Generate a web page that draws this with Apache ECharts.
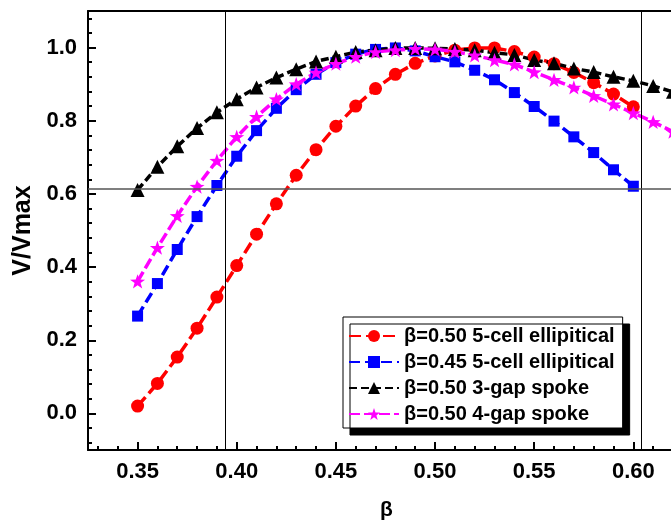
<!DOCTYPE html>
<html>
<head>
<meta charset="utf-8">
<script src="https://cdn.jsdelivr.net/npm/echarts@6/dist/echarts.min.js"></script>
<style>
  html, body { margin: 0; padding: 0; background: #fff; }
  #chart { width: 671px; height: 524px; }
</style>
</head>
<body>
<div id="chart"></div>
<script>
// ---- data ----
const betaShort = [0.35,0.36,0.37,0.38,0.39,0.40,0.41,0.42,0.43,0.44,0.45,0.46,0.47,0.48,0.49,0.50,0.51,0.52,0.53,0.54,0.55,0.56,0.57,0.58,0.59,0.60];
const betaLong  = [0.35,0.36,0.37,0.38,0.39,0.40,0.41,0.42,0.43,0.44,0.45,0.46,0.47,0.48,0.49,0.50,0.51,0.52,0.53,0.54,0.55,0.56,0.57,0.58,0.59,0.60,0.61,0.62];

const ell050 = [0.020,0.082,0.154,0.233,0.318,0.404,0.490,0.573,0.651,0.721,0.785,0.840,0.888,0.927,0.957,0.977,0.993,0.999,0.999,0.989,0.974,0.956,0.932,0.904,0.873,0.838];
const ell045 = [0.266,0.355,0.448,0.538,0.623,0.703,0.773,0.834,0.885,0.927,0.959,0.982,0.995,0.999,0.991,0.975,0.961,0.938,0.912,0.877,0.839,0.799,0.756,0.713,0.666,0.621];
const spoke3 = [0.611,0.674,0.730,0.780,0.823,0.859,0.891,0.918,0.941,0.962,0.975,0.988,0.993,0.999,0.999,0.998,0.996,0.993,0.986,0.980,0.966,0.957,0.943,0.933,0.920,0.909,0.895,0.879];
const spoke4 = [0.361,0.453,0.540,0.620,0.691,0.756,0.811,0.859,0.900,0.932,0.956,0.975,0.988,0.993,0.997,0.995,0.989,0.979,0.966,0.954,0.933,0.912,0.891,0.868,0.845,0.821,0.797,0.770];

const seriesNames = ['\u03b2=0.50 5-cell ellipitical','\u03b2=0.45 5-cell ellipitical','\u03b2=0.50 3-gap spoke','\u03b2=0.50 4-gap spoke'];

const xMajorTicks = [0.35,0.40,0.45,0.50,0.55,0.60];
const xMinorTicks = [0.33,0.34,0.36,0.37,0.38,0.39,0.41,0.42,0.43,0.44,0.46,0.47,0.48,0.49,0.51,0.52,0.53,0.54,0.56,0.57,0.58,0.59,0.61];
const yMajorTicks = [0.0,0.2,0.4,0.6,0.8,1.0];
const yMinorTicks = [-0.08,-0.04,0.04,0.08,0.12,0.16,0.24,0.28,0.32,0.36,0.44,0.48,0.52,0.56,0.64,0.68,0.72,0.76,0.84,0.88,0.92,0.96,1.04,1.08];

const refLinesX = [0.3943, 0.6040];
const refLinesY = [0.613];

const X_MIN = 0.325, X_MAX = 0.62, Y_MIN = -0.1, Y_MAX = 1.1;

// ---- chart ----
const FONT = '"Liberation Sans", Arial, sans-serif';
const pairs = (xs, ys) => ys.map((v, i) => [xs[i], v]);
const starPath = 'path://M0,-10 L2.35,-3.24 L9.51,-3.09 L3.8,1.24 L5.88,8.09 L0,4 L-5.88,8.09 L-3.8,1.24 L-9.51,-3.09 L-2.35,-3.24 Z';

const gridBox = { left: 88, top: 11, width: 585, height: 439, containLabel: false, outerBoundsMode: 'none' };

const chart = echarts.init(document.getElementById('chart'), null, { renderer: 'canvas' });

const mkSeries = (name, xs, ys, color, symbol, size, dash) => ({
  name, type: 'line', xAxisIndex: 0, yAxisIndex: 0,
  data: pairs(xs, ys),
  symbol, symbolSize: size, symbolKeepAspect: true,
  itemStyle: { color, borderWidth: 0 },
  lineStyle: { color, width: 3.5, type: dash },
  clip: true, animation: false, z: 3
});

const option = {
  animation: false,
  backgroundColor: '#ffffff',
  textStyle: { fontFamily: FONT },
  grid: [
    Object.assign({}, gridBox),
    Object.assign({}, gridBox)
  ],
  legend: {
    orient: 'vertical',
    left: 343, top: 317,
    padding: [9, 8, 4, 5],
    itemWidth: 50, itemHeight: 15, itemGap: 6,
    backgroundColor: '#ffffff',
    borderColor: '#000', borderWidth: 1, borderRadius: 0,
    shadowColor: '#000', shadowBlur: 0, shadowOffsetX: 7, shadowOffsetY: 7,
    textStyle: { fontFamily: FONT, fontWeight: 'bold', fontSize: 20, color: '#000', lineHeight: 20 },
    data: seriesNames,
    selectedMode: false
  },
  xAxis: [
    {
      type: 'value', gridIndex: 0, position: 'bottom', min: X_MIN, max: X_MAX,
      name: '\u03b2', nameLocation: 'middle', nameGap: 50,
      nameTextStyle: { fontFamily: FONT, fontWeight: 'bold', fontSize: 21, color: '#000', padding: [0,0,0,12] },
      axisLine: { show: true, onZero: false, lineStyle: { color: '#000', width: 2 } },
      axisTick: { show: true, inside: true, length: 8, lineStyle: { color: '#000', width: 2 }, customValues: xMajorTicks },
      axisLabel: { show: true, margin: 11, fontFamily: FONT, fontWeight: 'bold', fontSize: 22, color: '#000',
        customValues: xMajorTicks, formatter: v => v.toFixed(2) },
      splitLine: { show: false }
    },
    {
      type: 'value', gridIndex: 0, position: 'top', min: X_MIN, max: X_MAX,
      axisLine: { show: true, onZero: false, lineStyle: { color: '#000', width: 2 } },
      axisTick: { show: false }, axisLabel: { show: false }, splitLine: { show: false }
    },
    {
      type: 'value', gridIndex: 1, position: 'bottom', min: X_MIN, max: X_MAX,
      axisLine: { show: false, onZero: false },
      axisTick: { show: true, inside: true, length: 4, lineStyle: { color: '#000', width: 2 }, customValues: xMinorTicks },
      axisLabel: { show: false }, splitLine: { show: false }
    }
  ],
  yAxis: [
    {
      type: 'value', gridIndex: 0, position: 'left', min: Y_MIN, max: Y_MAX,
      name: 'V/Vmax', nameLocation: 'middle', nameGap: 50,
      nameTextStyle: { fontFamily: FONT, fontWeight: 'bold', fontSize: 25, color: '#000' },
      axisLine: { show: true, onZero: false, lineStyle: { color: '#000', width: 2 } },
      axisTick: { show: true, inside: true, length: 8, lineStyle: { color: '#000', width: 2 }, customValues: yMajorTicks },
      axisLabel: { show: true, margin: 11, fontFamily: FONT, fontWeight: 'bold', fontSize: 22, color: '#000',
        customValues: yMajorTicks, formatter: v => v.toFixed(1) },
      splitLine: { show: false }
    },
    {
      type: 'value', gridIndex: 1, position: 'left', min: Y_MIN, max: Y_MAX,
      axisLine: { show: false, onZero: false },
      axisTick: { show: true, inside: true, length: 4, lineStyle: { color: '#000', width: 2 }, customValues: yMinorTicks },
      axisLabel: { show: false }, splitLine: { show: false }
    }
  ],
  series: [
    Object.assign(mkSeries(seriesNames[0], betaShort, ell050, '#ff0000', 'circle', 13, [12, 5]), {
      markLine: {
        silent: true, precision: 4, symbol: ['none', 'none'], label: { show: false }, animation: false,
        data: [
          ...refLinesX.map(v => ({ xAxis: v, lineStyle: { color: '#000', width: 1, type: 'solid' } })),
          ...refLinesY.map(v => ({ yAxis: v, lineStyle: { color: '#555', width: 1.5, type: 'solid' } }))
        ]
      }
    }),
    mkSeries(seriesNames[1], betaShort, ell045, '#0000ff', 'rect', 11, [11, 5]),
    mkSeries(seriesNames[2], betaLong, spoke3, '#000000', 'triangle', 14, [8, 4]),
    mkSeries(seriesNames[3], betaLong, spoke4, '#ff00ff', starPath, 15, [11, 4])
  ]
};

chart.setOption(option);
</script>
</body>
</html>
